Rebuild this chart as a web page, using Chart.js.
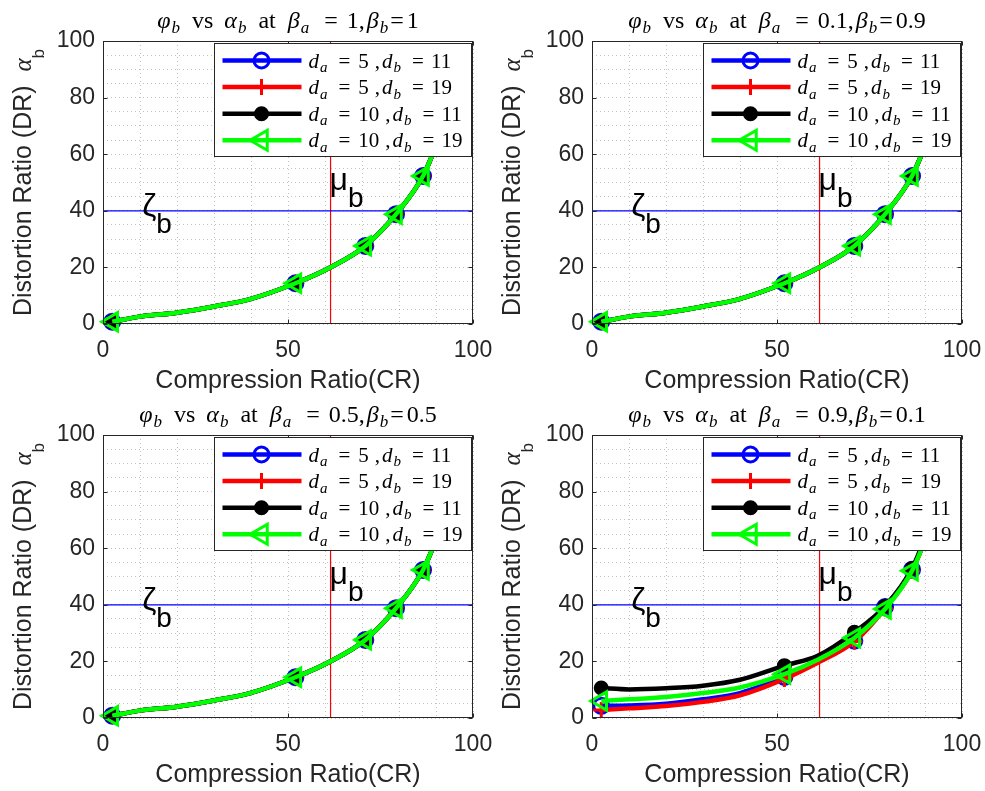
<!DOCTYPE html>
<html>
<head>
<meta charset="utf-8">
<script src="https://cdn.jsdelivr.net/npm/chart.js@4.4.0/dist/chart.umd.min.js"></script>
<style>
  html, body { margin: 0; padding: 0; background: #fff; }
  #wrap { position: relative; width: 985px; height: 791px; overflow: hidden; background: #fff; }
  #wrap canvas { position: absolute; }
</style>
</head>
<body>
<div id="wrap">
  <canvas id="c0" width="495" height="395" style="left:0;top:0"></canvas>
  <canvas id="c1" width="495" height="395" style="left:489px;top:0"></canvas>
  <canvas id="c2" width="495" height="395" style="left:0;top:394px"></canvas>
  <canvas id="c3" width="495" height="395" style="left:489px;top:394px"></canvas>
</div>
<script>
// compression ratio samples (x) shared by every curve
const crValues = [2.5, 10, 20, 30, 40, 52, 61, 70.9, 79.2, 86.5, 91];
// which samples carry a marker
const markerIdx = [0, 5, 7, 8, 9];

// panels 1-3: all four curves lie on top of each other
const drSame = [0.8, 2.6, 4.0, 6.2, 8.9, 14.4, 19.7, 27.6, 38.8, 52.3, 66];
// panel 4 (beta_a = 0.9, beta_b = 0.1)
const drBlue4  = [4.3, 4.4, 5.0, 6.6, 8.8, 14.5, 19.8, 27.3, 39.2, 52.4, 66];
const drRed4   = [2.8, 3.4, 4.2, 5.7, 8.0, 13.8, 19.5, 27.0, 38.7, 52.0, 66];
const drBlack4 = [10.6, 10.1, 10.5, 11.4, 13.5, 18.5, 22.0, 30.3, 39.5, 52.8, 67];
const drGreen4 = [6.0, 6.6, 7.4, 8.8, 10.8, 15.5, 20.6, 28.3, 38.5, 52.0, 66];

const betaA = ['1', '0.1', '0.5', '0.9'];
const betaB = ['1', '0.9', '0.5', '0.1'];
const legendDa = ['5', '5', '10', '10'];
const legendDb = ['11', '19', '11', '19'];

const zetaLevel = 40;   // horizontal threshold line
const muLevel = 61.5;   // vertical threshold line
const xMajor = [0, 50, 100];
const yMajor = [0, 20, 40, 60, 80, 100];

const panelSeries = [
  [drSame, drSame, drSame, drSame],
  [drSame, drSame, drSame, drSame],
  [drSame, drSame, drSame, drSame],
  [drBlue4, drRed4, drBlack4, drGreen4]
];

const SERIF = '"Liberation Serif", "DejaVu Serif", serif';
const SANS = '"Liberation Sans", Arial, sans-serif';
const AX = '#262626';

const styles = [
  { color: '#0000ff', shape: 'circle',   r: 7.5, fill: 'rgba(0,0,0,0)', rot: 0 },
  { color: '#ff0000', shape: 'cross',    r: 8,   fill: '#ff0000',       rot: 0 },
  { color: '#000000', shape: 'circle',   r: 6,   fill: '#000000',       rot: 0 },
  { color: '#00ff00', shape: 'triangle', r: 10.5, fill: 'rgba(0,0,0,0)', rot: -90 }
];

function fontFor(kind, size) {
  if (kind === 'r') return size + 'px ' + SERIF;
  if (kind === 'i') return 'italic ' + size + 'px ' + SERIF;
  if (kind === 's') return 'italic ' + Math.round(size * 0.7) + 'px ' + SERIF;
  if (kind === 'S') return size + 'px ' + SANS;
  return Math.round(size * 0.66) + 'px ' + SANS; // 'Ss' sans subscript
}

// parts: [text, kind] ; kind 'g' = blank gap of text px
function partWidth(ctx, t, k, size) {
  if (k === 'g') return t;
  ctx.font = fontFor(k, size);
  return ctx.measureText(t).width;
}

function drawRich(ctx, parts, x, y, size, align) {
  let w = 0;
  parts.forEach(([t, k]) => { w += partWidth(ctx, t, k, size); });
  let cx = align === 'center' ? x - w / 2 : x;
  ctx.textAlign = 'left';
  ctx.textBaseline = 'alphabetic';
  parts.forEach(([t, k]) => {
    if (k !== 'g') {
      ctx.font = fontFor(k, size);
      let dy = 0;
      if (k === 's') dy = size * 0.22;
      if (k === 'Ss') dy = size * 0.5;
      ctx.fillText(t, cx, y + dy);
    }
    cx += partWidth(ctx, t, k, size);
  });
}

function legendMarker(ctx, st, x, y) {
  ctx.lineWidth = 3;
  ctx.strokeStyle = st.color;
  ctx.fillStyle = st.fill;
  ctx.beginPath();
  if (st.shape === 'circle') {
    ctx.arc(x, y, st.r, 0, Math.PI * 2);
    ctx.fill();
    ctx.stroke();
  } else if (st.shape === 'cross') {
    ctx.moveTo(x - st.r, y); ctx.lineTo(x + st.r, y);
    ctx.moveTo(x, y - st.r); ctx.lineTo(x, y + st.r);
    ctx.stroke();
  } else {
    const r = st.r + 1;
    ctx.moveTo(x - r, y);
    ctx.lineTo(x + r / 2, y - r * Math.sqrt(3) / 2);
    ctx.lineTo(x + r / 2, y + r * Math.sqrt(3) / 2);
    ctx.closePath();
    ctx.stroke();
  }
}

const decor = {
  id: 'decor',
  afterDatasetsDraw(chart, args, opts) {
    const { ctx, chartArea: a, scales: { x, y } } = chart;
    ctx.save();
    ctx.fillStyle = '#000';
    // threshold labels
    let px = x.getPixelForValue(61.2), py = y.getPixelForValue(47.3);
    ctx.textAlign = 'left'; ctx.textBaseline = 'alphabetic';
    ctx.font = '32px ' + SANS;
    ctx.fillText('μ', px, py);
    let w = ctx.measureText('μ').width;
    ctx.font = '28px ' + SANS;
    ctx.fillText('b', px + w, py + 17);
    px = x.getPixelForValue(10.6); py = y.getPixelForValue(38.2);
    ctx.font = '32px ' + SANS;
    ctx.fillText('ζ', px, py);
    w = ctx.measureText('ζ').width;
    ctx.font = '28px ' + SANS;
    ctx.fillText('b', px + w, py + 17);

    // axes box and inward tick marks
    const L = Math.round(a.left) + 0.5, R = Math.round(a.right) - 0.5;
    const T = Math.round(a.top) + 0.5, B = Math.round(a.bottom) - 0.5;
    ctx.strokeStyle = AX; ctx.lineWidth = 1;
    ctx.strokeRect(L, T, R - L, B - T);
    ctx.beginPath();
    xMajor.forEach(v => {
      const p = Math.round(x.getPixelForValue(v)) + 0.5;
      ctx.moveTo(p, B); ctx.lineTo(p, B - 4);
      ctx.moveTo(p, T); ctx.lineTo(p, T + 4);
    });
    yMajor.forEach(v => {
      const p = Math.round(y.getPixelForValue(v)) + 0.5;
      ctx.moveTo(L, p); ctx.lineTo(L + 4, p);
      ctx.moveTo(R, p); ctx.lineTo(R - 4, p);
    });
    ctx.stroke();

    // legend box inside the axes
    const lr = Math.round(a.right) - 1.5, ll = lr - 257, lt = Math.round(a.top) + 2.5, lh = 113;
    ctx.fillStyle = '#fff';
    ctx.fillRect(ll, lt, lr - ll, lh);
    ctx.strokeStyle = AX; ctx.lineWidth = 1;
    ctx.strokeRect(ll, lt, lr - ll, lh);
    styles.forEach((st, i) => {
      const ry = lt + 17 + i * 26.6;
      ctx.strokeStyle = st.color; ctx.lineWidth = 4.5;
      ctx.beginPath(); ctx.moveTo(ll + 8, ry); ctx.lineTo(ll + 87, ry); ctx.stroke();
      legendMarker(ctx, st, ll + 47, ry);
      ctx.fillStyle = '#000';
      drawRich(ctx, [['d', 'i'], [1, 'g'], ['a', 's'], [11, 'g'], ['=', 'r'], [8, 'g'], [legendDa[i], 'r'], [6, 'g'],
        [',', 'r'], [2, 'g'], ['d', 'i'], [1, 'g'], ['b', 's'], [11, 'g'], ['=', 'r'], [7, 'g'], [legendDb[i], 'r']],
        ll + 94, ry + 7, 21, 'left');
    });
    ctx.restore();
  },
  afterDraw(chart, args, opts) {
    const { ctx, chartArea: a } = chart;
    const p = opts.panel;
    const cx = (a.left + a.right) / 2, cy = (a.top + a.bottom) / 2;
    ctx.save();
    ctx.fillStyle = '#000';
    drawRich(ctx, [['φ', 'i'], [1, 'g'], ['b', 's'], [12, 'g'], ['vs', 'r'], [11, 'g'], ['α', 'i'], [1, 'g'], ['b', 's'],
      [12, 'g'], ['at', 'r'], [12, 'g'], ['β', 'i'], [1, 'g'], ['a', 's'], [15, 'g'], ['=', 'r'], [9, 'g'],
      [betaA[p] + ',', 'r'], [2, 'g'], ['β', 'i'], [1, 'g'], ['b', 's'], [2, 'g'], ['=', 'r'], [3, 'g'], [betaB[p], 'r']],
      cx, a.top - 13, 24, 'center');
    ctx.fillStyle = AX;
    drawRich(ctx, [['Compression Ratio(CR)', 'S']], cx, a.bottom + 64, 25, 'center');
    ctx.translate(31, cy);
    ctx.rotate(-Math.PI / 2);
    drawRich(ctx, [['Distortion Ratio (DR)  ', 'S'], ['α', 'i'], ['b', 'Ss']], 0, 0, 25, 'center');
    ctx.restore();
  }
};

function makeChart(id, p) {
  const ys = panelSeries[p];
  const datasets = styles.map((st, i) => ({
    data: crValues.map((cr, k) => ({ x: cr, y: ys[i][k] })),
    borderColor: st.color,
    borderWidth: 4.5,
    pointStyle: st.shape,
    pointRadius: crValues.map((cr, k) => markerIdx.includes(k) ? st.r : 0),
    pointBorderWidth: 3,
    pointBorderColor: st.color,
    pointBackgroundColor: st.fill,
    pointRotation: st.rot,
    cubicInterpolationMode: 'monotone',
    clip: false,
    order: 4 - i
  }));
  datasets.push({
    data: [{ x: 0, y: zetaLevel }, { x: 100, y: zetaLevel }],
    borderColor: '#0000ff', borderWidth: 1.2, pointRadius: 0, order: 10
  });
  datasets.push({
    data: [{ x: muLevel, y: 0 }, { x: muLevel, y: 100 }],
    borderColor: '#ff0000', borderWidth: 1.2, pointRadius: 0, order: 10
  });

  new Chart(document.getElementById(id), {
    type: 'line',
    data: { datasets },
    plugins: [decor],
    options: {
      responsive: false,
      animation: false,
      events: [],
      layout: { padding: { top: 41, right: 22, bottom: 0, left: 0 } },
      plugins: { legend: { display: false }, tooltip: { enabled: false }, decor: { panel: p } },
      scales: {
        x: {
          type: 'linear', min: 0, max: 100,
          ticks: {
            stepSize: 10, autoSkip: false, maxRotation: 0, padding: 13,
            color: AX, font: { family: 'Liberation Sans', size: 23 },
            callback: v => (v % 50 === 0 ? v : '')
          },
          grid: { color: 'rgba(38,38,38,0.28)', lineWidth: 1, drawTicks: false },
          border: { display: false, dash: [1, 3] },
          afterFit: s => { s.height = 71; s.paddingLeft = 0; s.paddingRight = 0; }
        },
        y: {
          min: 0, max: 100,
          ticks: {
            stepSize: 5, autoSkip: false, padding: 8,
            color: AX, font: { family: 'Liberation Sans', size: 23 },
            callback: v => (v % 20 === 0 ? v : '')
          },
          grid: { color: 'rgba(38,38,38,0.28)', lineWidth: 1, drawTicks: false },
          border: { display: false, dash: [1, 3] },
          afterFit: s => { s.width = 103; s.paddingTop = 0; s.paddingBottom = 0; }
        }
      }
    }
  });
}

makeChart('c0', 0);
makeChart('c1', 1);
makeChart('c2', 2);
makeChart('c3', 3);
</script>
</body>
</html>
